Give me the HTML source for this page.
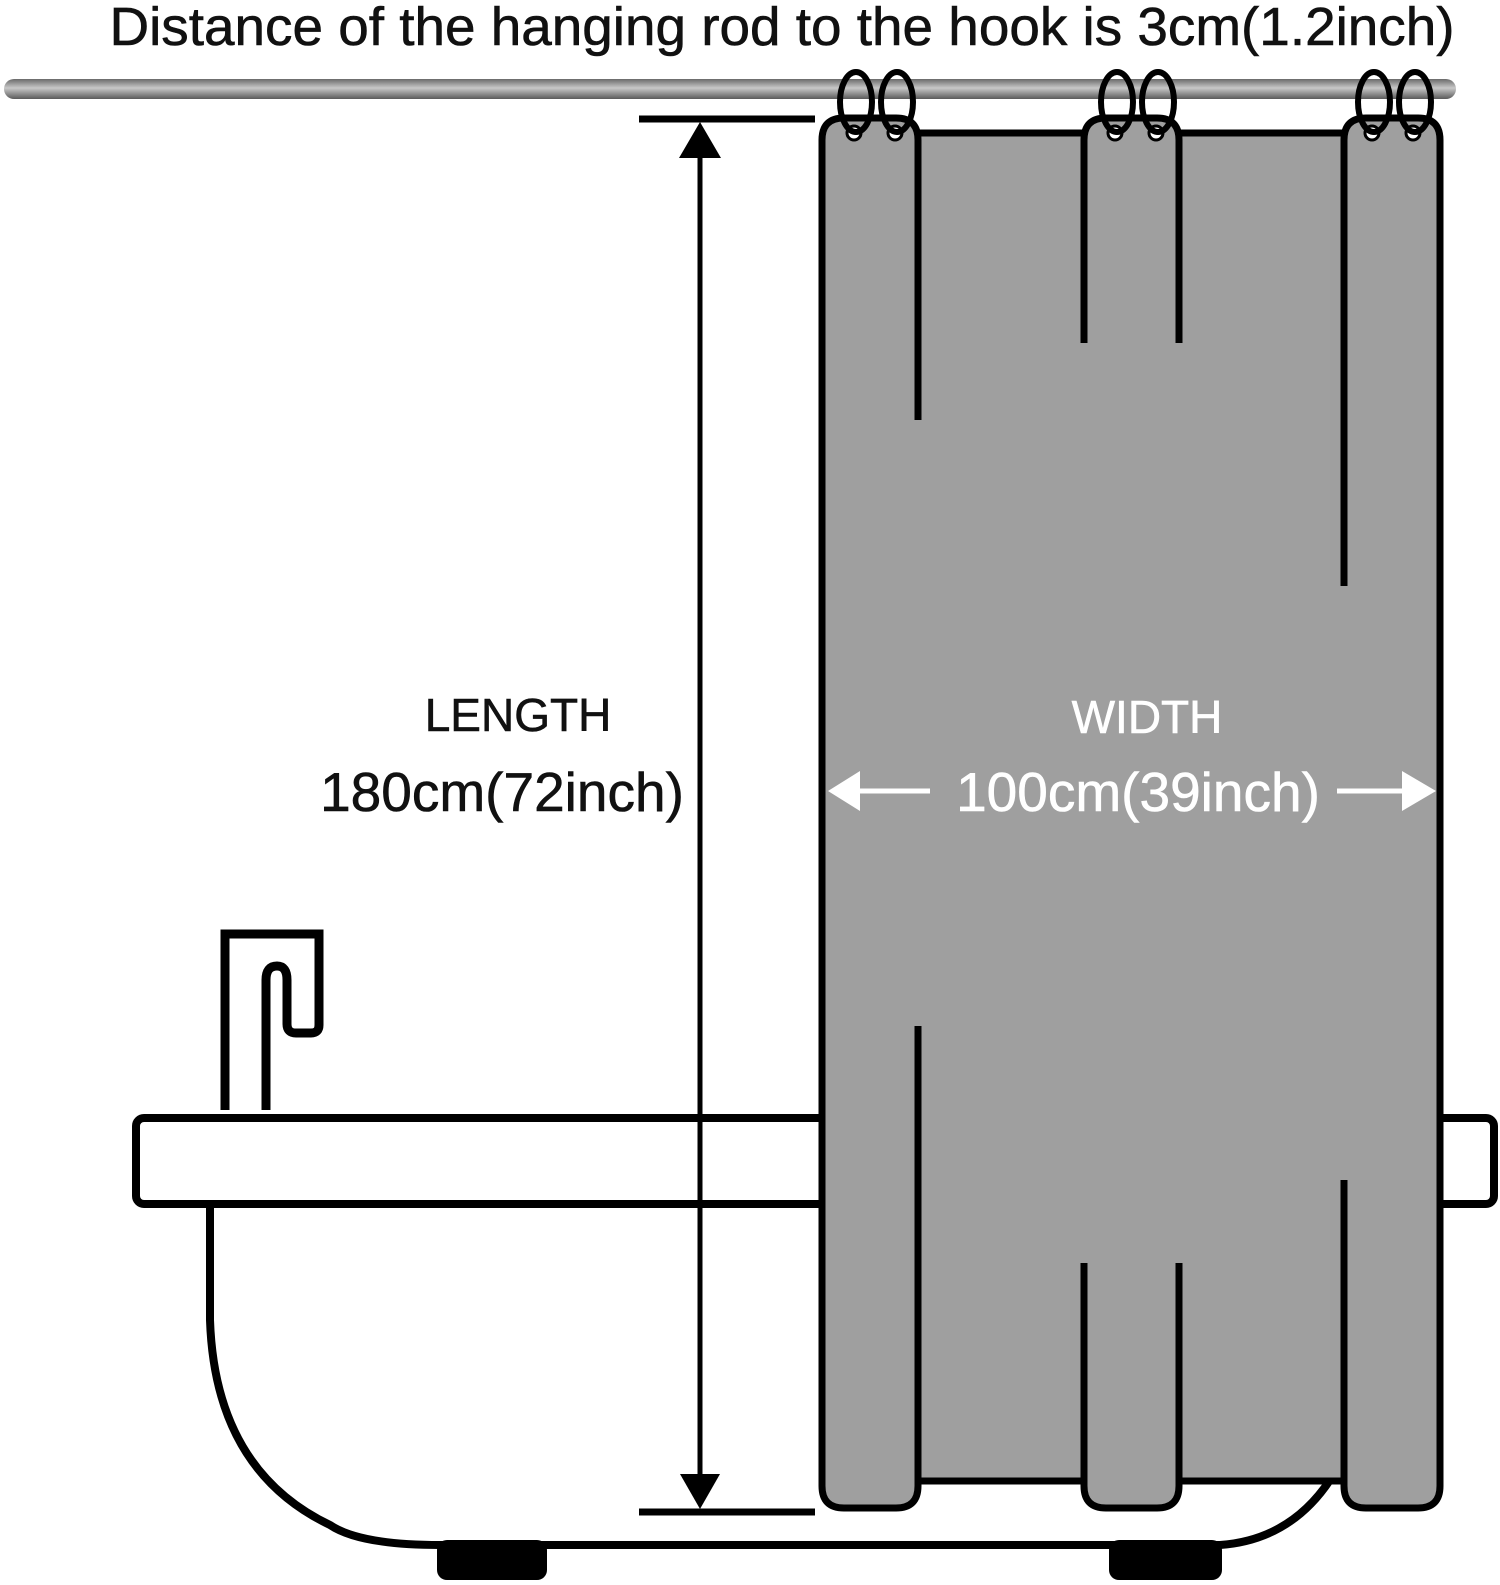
<!DOCTYPE html>
<html><head><meta charset="utf-8"><style>
html,body{margin:0;padding:0;background:#fff}
svg{display:block}
text{font-family:"Liberation Sans",sans-serif}
</style></head><body>
<svg width="1500" height="1585" viewBox="0 0 1500 1585" xmlns="http://www.w3.org/2000/svg">
<defs>
<linearGradient id="rod" x1="0" y1="0" x2="0" y2="1">
<stop offset="0" stop-color="#6a6a6a"/><stop offset="0.45" stop-color="#c8c8c8"/><stop offset="1" stop-color="#5a5a5a"/>
</linearGradient>
</defs>
<text x="782" y="45" font-size="54" text-anchor="middle" fill="#111" stroke="#111" stroke-width="0.6" textLength="1345" lengthAdjust="spacingAndGlyphs">Distance of the hanging rod to the hook is 3cm(1.2inch)</text>
<rect x="4" y="79" width="1452" height="20" rx="10" fill="url(#rod)"/>

<!-- tub body -->
<path d="M210 1203 L210 1320 Q215 1470 330 1525 Q360 1545 440 1545 L1220 1545 Q1290 1540 1330 1480" fill="#fff" stroke="#000" stroke-width="8"/>
<rect x="437" y="1540" width="110" height="40" rx="10" fill="#000"/>
<rect x="1109" y="1540" width="113" height="40" rx="10" fill="#000"/>
<!-- hook -->
<path d="M225 1110 L225 934 L319 934 L319 1025 Q319 1033 311 1033 L296 1033 Q287 1033 287 1024 L287 980 Q287 966 277 966 Q266 966 266 980 L266 1110" fill="#fff" stroke="#000" stroke-width="9"/>
<!-- rim -->
<rect x="136" y="1118" width="1358" height="86" rx="8" fill="#fff" stroke="#000" stroke-width="8"/>

<!-- dimension line -->
<line x1="639" y1="119" x2="815" y2="119" stroke="#000" stroke-width="7"/>
<line x1="639" y1="1512" x2="815" y2="1512" stroke="#000" stroke-width="7"/>
<line x1="700" y1="140" x2="700" y2="1490" stroke="#000" stroke-width="5"/>
<polygon points="700,122 679,158 721,158" fill="#000"/>
<polygon points="700,1509 680,1474 720,1474" fill="#000"/>

<!-- curtain fill -->
<g fill="#9f9f9f">
<rect x="822" y="133" width="618" height="1348"/>
<rect x="822" y="118" width="96" height="1390" rx="22"/>
<rect x="1084" y="118" width="95" height="1390" rx="22"/>
<rect x="1344" y="118" width="96" height="1390" rx="22"/>
</g>
<!-- curtain outlines -->
<g fill="none" stroke="#000" stroke-width="7">
<path d="M822 1486 V140 Q822 118 844 118 H896 Q918 118 918 140 V420"/>
<path d="M918 1026 V1486 Q918 1508 896 1508 H844 Q822 1508 822 1486"/>
<path d="M918 133 H1084 M1179 133 H1344 M918 1481 H1084 M1179 1481 H1344"/>
<path d="M1084 343 V140 Q1084 118 1106 118 H1157 Q1179 118 1179 140 V343"/>
<path d="M1084 1263 V1486 Q1084 1508 1106 1508 H1157 Q1179 1508 1179 1486 V1263"/>
<path d="M1344 586 V140 Q1344 118 1366 118 H1418 Q1440 118 1440 140 V1486 Q1440 1508 1418 1508 H1366 Q1344 1508 1344 1486 V1180"/>
</g>
<!-- eyelets -->
<g fill="#fff" stroke="#000" stroke-width="3">
<circle cx="854" cy="133" r="7"/><circle cx="895" cy="133" r="7"/>
<circle cx="1115" cy="133" r="7"/><circle cx="1156" cy="133" r="7"/>
<circle cx="1372" cy="133" r="7"/><circle cx="1413" cy="133" r="7"/>
</g>
<!-- rings -->
<g fill="none" stroke="#000" stroke-width="6">
<ellipse cx="856" cy="102" rx="16" ry="30"/><ellipse cx="897" cy="102" rx="16" ry="30"/>
<ellipse cx="1117" cy="102" rx="16" ry="30"/><ellipse cx="1158" cy="102" rx="16" ry="30"/>
<ellipse cx="1374" cy="102" rx="16" ry="30"/><ellipse cx="1415" cy="102" rx="16" ry="30"/>
</g>

<!-- labels -->
<text x="518" y="731" font-size="46" text-anchor="middle" fill="#111" stroke="#111" stroke-width="0.6">LENGTH</text>
<text x="502" y="811" font-size="55" text-anchor="middle" fill="#111" stroke="#111" stroke-width="0.6">180cm(72inch)</text>
<text x="1147" y="733" font-size="46" text-anchor="middle" fill="#fff" stroke="#fff" stroke-width="0.6">WIDTH</text>
<text x="1138" y="811" font-size="55" text-anchor="middle" fill="#fff" stroke="#fff" stroke-width="0.6">100cm(39inch)</text>
<line x1="850" y1="791" x2="930" y2="791" stroke="#fff" stroke-width="5"/>
<polygon points="828,791 860,771 860,811" fill="#fff"/>
<line x1="1337" y1="791" x2="1410" y2="791" stroke="#fff" stroke-width="5"/>
<polygon points="1436,791 1402,771 1402,811" fill="#fff"/>
</svg>
</body></html>
